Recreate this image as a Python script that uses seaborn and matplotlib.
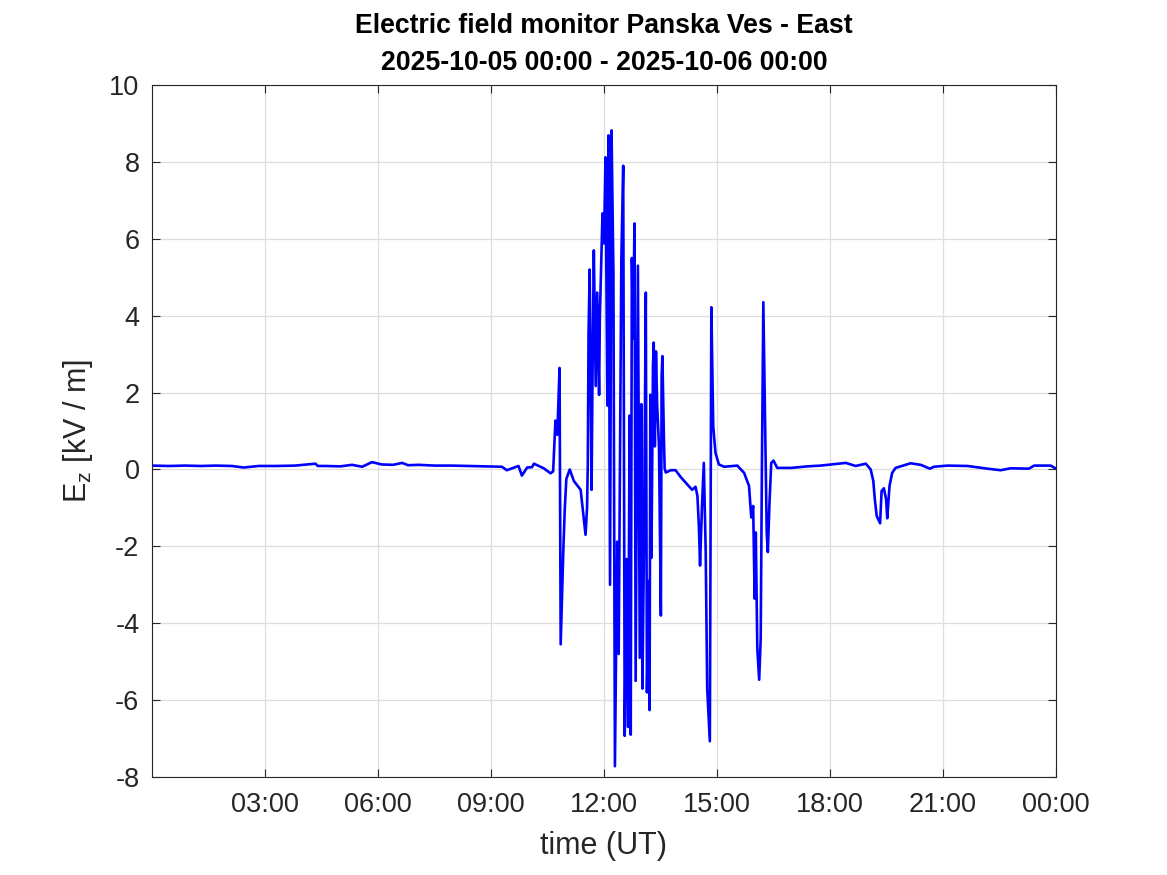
import numpy as np
import pandas as pd
import matplotlib
matplotlib.use('Agg')
import matplotlib.pyplot as plt
import seaborn as sns

# Ez readings (hours since 2025-10-05 00:00 UT, kV/m)
hours = [
    0.0, 0.45, 0.88, 1.3, 1.7, 2.12, 2.43, 2.83, 3.3, 3.8, 4.34, 4.4, 4.6, 5.0, 5.31,
    5.58, 5.84, 6.1, 6.4, 6.64, 6.8, 7.08, 7.5, 7.96, 8.4, 8.85, 9.29, 9.42, 9.56, 9.73,
    9.82, 9.96, 10.09, 10.14, 10.4, 10.58, 10.65, 10.71, 10.76, 10.82, 10.85, 10.92, 10.96,
    11.0, 11.09, 11.2, 11.38, 11.51, 11.55, 11.57, 11.59, 11.62, 11.67, 11.70, 11.73, 11.78,
    11.82, 11.87, 11.89, 11.96, 12.0, 12.04, 12.09, 12.12, 12.16, 12.2, 12.25, 12.29, 12.35,
    12.39, 12.46, 12.51, 12.55, 12.6, 12.64, 12.68, 12.71, 12.74, 12.77, 12.81, 12.84, 12.9,
    12.95, 12.99, 13.02, 13.06, 13.11, 13.14, 13.19, 13.21, 13.23, 13.26, 13.3, 13.32, 13.35,
    13.38, 13.41, 13.46, 13.48, 13.51, 13.53, 13.55, 13.59, 13.61, 13.64, 13.77, 13.9, 14.03,
    14.21, 14.34, 14.43, 14.48, 14.52, 14.55, 14.6, 14.65, 14.7, 14.74, 14.81, 14.85, 14.9,
    14.96, 15.05, 15.19, 15.54, 15.72, 15.85, 15.91, 15.96, 16.0, 16.03, 16.07, 16.12, 16.16,
    16.19, 16.23, 16.28, 16.32, 16.35, 16.39, 16.44, 16.5, 16.6, 16.96, 17.4, 17.75, 18.42,
    18.68, 18.95, 19.08, 19.15, 19.19, 19.24, 19.33, 19.37, 19.43, 19.49, 19.52, 19.58, 19.65,
    19.74, 20.14, 20.41, 20.65, 20.76, 21.12, 21.65, 22.18, 22.53, 22.8, 23.28, 23.42, 23.86,
    24.0,
]
ez = [
    0.10, 0.09, 0.10, 0.09, 0.10, 0.09, 0.05, 0.09, 0.09, 0.10, 0.15, 0.09, 0.09, 0.08, 0.12,
    0.07, 0.19, 0.13, 0.12, 0.17, 0.11, 0.12, 0.10, 0.10, 0.09, 0.08, 0.07, -0.02, 0.03, 0.09,
    -0.16, 0.05, 0.06, 0.15, 0.03, -0.10, -0.05, 1.27, 0.9, 2.64, -4.55, -2.1, -1.0,
    -0.25, 0.0, -0.3, -0.53, -1.7, -1.0, 0.15, 3.57, 5.2, -0.53, 3.0, 5.7, 2.17,
    4.6, 1.94, 3.97, 6.66, 5.88, 8.12, 1.66, 8.69, -3.0, 8.82, 5.1, -7.72, -1.88,
    -4.8, 5.43, 7.9, -6.93, -2.33, -6.7, 1.4, -6.9, 5.5, 3.4, 6.4, -5.5, 5.3,
    -4.9, 1.7, -5.7, -2.1, 4.6, -5.8, -2.9, -6.26, 1.94, -2.3, 2.67, 3.3, 0.6,
    3.07, 1.7, 0.6, -1.1, -3.8, 2.4, 2.95, 0.82, 0.03, -0.08, -0.02, -0.02, -0.19,
    -0.39, -0.53, -0.45, -0.69, -1.5, -2.5, -1.0, 0.17, -2.15, -5.7, -7.07, 4.22, 1.12,
    0.43, 0.13, 0.07, 0.1, -0.09, -0.43, -1.25, -0.95, -3.36, -1.64, -4.65, -5.47, -4.4,
    -0.26, 4.35, 1.12, -1.64, -2.15, -0.95, 0.17, 0.23, 0.04, 0.04, 0.08, 0.10, 0.17,
    0.09, 0.15, 0.0, -0.3, -0.78, -1.21, -1.4, -0.56, -0.49, -0.78, -1.27, -0.43, -0.09,
    0.04, 0.16, 0.12, 0.02, 0.07, 0.10, 0.09, 0.02, -0.02, 0.03, 0.02, 0.10, 0.10,
    0.02,
]

x_ticks = [3, 6, 9, 12, 15, 18, 21, 24]
x_tick_labels = ['03:00', '06:00', '09:00', '12:00', '15:00', '18:00', '21:00', '00:00']
y_ticks = [-8, -6, -4, -2, 0, 2, 4, 6, 8, 10]

df = pd.DataFrame({'hours': hours, 'ez': ez})

sns.set_style('white')
plt.rcParams['font.family'] = ['Liberation Sans', 'DejaVu Sans']
plt.rcParams['mathtext.fontset'] = 'custom'
plt.rcParams['mathtext.rm'] = 'Liberation Sans'

fig = plt.figure(figsize=(11.67, 8.75), dpi=100)
fig.patch.set_facecolor('white')
ax = fig.add_axes([152 / 1167, 98 / 875, 904 / 1167, 692 / 875])

sns.lineplot(data=df, x='hours', y='ez', ax=ax, color='#0000ff', linewidth=1.9,
             estimator=None, sort=False)

ax.set_xlim(0, 24)
ax.set_ylim(-8, 10)
ax.set_xticks(x_ticks)
ax.set_xticklabels(x_tick_labels)
ax.set_yticks(y_ticks)
ax.set_yticklabels([str(v) for v in y_ticks])

ax.grid(True, color='#dedede', linewidth=0.9)
ax.set_axisbelow(True)
for s in ax.spines.values():
    s.set_visible(True)
    s.set_color('#262626')
    s.set_linewidth(0.8)

ax.tick_params(axis='both', which='both', direction='in', length=6, width=0.8,
               color='#262626', labelcolor='#262626', labelsize=19.5,
               top=True, right=True, bottom=True, left=True)
ax.tick_params(axis='x', pad=11)
ax.tick_params(axis='y', pad=9)

ax.set_xlabel('time (UT)', fontsize=22, color='#262626')
ax.set_ylabel(r'E$_\mathregular{z}$ [kV / m]', fontsize=22, color='#262626')
ax.xaxis.set_label_coords(0.5, -0.078)
ax.yaxis.set_label_coords(-0.063, 0.5)

ax.set_title('Electric field monitor Panska Ves - East\n2025-10-05 00:00 - 2025-10-06 00:00',
             fontsize=19.2, fontweight='bold', color='black', pad=10.5, linespacing=1.55)

fig.savefig('out.png', dpi=100, facecolor='white')
